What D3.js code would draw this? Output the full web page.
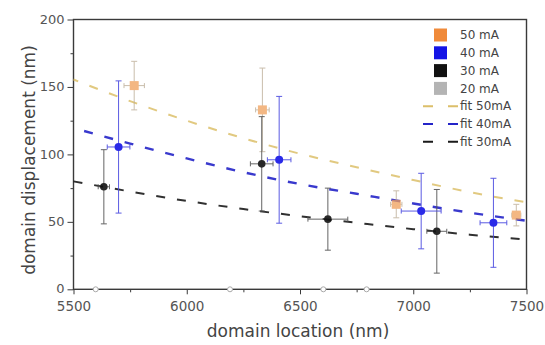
<!DOCTYPE html>
<html>
<head>
<meta charset="utf-8">
<script src="https://cdn.jsdelivr.net/npm/d3@7"></script>
<style>
  html, body { margin: 0; padding: 0; background: #fff; }
  svg { display: block; font-family: "DejaVu Sans", sans-serif; }
</style>
</head>
<body>
<svg id="chart" width="545" height="345"></svg>
<script>
// ── data ──
var x50 = [5768, 6334, 6925, 7455];
var y50 = [151, 133, 63, 55];
var ey50 = [18, 31, 10, 8];
var ex50 = [45, 30, 25, 20];

var x40 = [5699, 6408, 7035, 7354];
var y40 = [105.5, 96, 58, 49.3];
var ey40 = [49, 47, 28, 33];
var ex40 = [50, 52, 88, 59];

var x30 = [5634, 6331, 6623, 7104];
var y30 = [76, 93, 52, 43];
var ey30 = [27.5, 35, 23, 31];
var ex30 = [25, 50, 88, 44];

var x20 = [5598, 6191, 6603, 6794];
var y20 = [0, 0, 0, 0];

var fitX = [5500, 5750, 6000, 6250, 6500, 6750, 7000, 7250, 7500];
var fit50 = [155.5, 139.5, 125, 112, 100.5, 90.5, 81, 72, 64.5];
var fit40 = [119.5, 108, 97, 86.8, 78, 70.8, 63.6, 56.8, 50.8];
var fit30 = [80, 72.5, 65.5, 59.5, 54.2, 49.3, 44.6, 40.5, 36.8];

var xTicks = [5500, 6000, 6500, 7000, 7500];
var yTicks = [0, 50, 100, 150, 200];
var legendLabels = ['50 mA', '40 mA', '30 mA', '20 mA', 'fit 50mA', 'fit 40mA', 'fit 30mA'];

(function () {
  var svg = d3.select('#chart');
  var L = 73.5, R = 526.5, T = 19.5, B = 289.3;

  var x = d3.scaleLinear().domain([5500, 7500]).range([L, R]);
  var y = d3.scaleLinear().domain([0, 200]).range([B, T]);

  var C = { o: '#f08a3a', b: '#1414e6', k: '#111', g: '#b4b4b4',
            f50: '#dcbf6a', f40: '#2424c8', f30: '#1a1a1a', axis: '#3a3a3a', txt: '#555' };

  // ── axes ──
  var ax = svg.append('g').attr('transform', 'translate(0,' + B + ')')
    .call(d3.axisBottom(x).tickValues(xTicks).tickSize(5).tickPadding(7).tickFormat(d3.format('d')));
  var axm = svg.append('g').attr('transform', 'translate(0,' + B + ')')
    .call(d3.axisBottom(x).tickValues([5750, 6250, 6750, 7250]).tickSize(3).tickFormat(''));
  var ay = svg.append('g').attr('transform', 'translate(' + L + ',0)')
    .call(d3.axisLeft(y).tickValues(yTicks).tickSize(6).tickPadding(3));
  var aym = svg.append('g').attr('transform', 'translate(' + L + ',0)')
    .call(d3.axisLeft(y).tickValues([25, 75, 125, 175]).tickSize(3).tickFormat(''));

  [ax, axm, ay, aym].forEach(function (g) {
    g.select('.domain').remove();
    g.selectAll('line').attr('stroke', C.axis).attr('stroke-width', 1);
    g.selectAll('text').attr('fill', C.txt).style('font-size', '13px')
      .style('font-family', '"DejaVu Sans", sans-serif');
  });
  ax.selectAll('text').style('font-size', '13.5px');
  ay.selectAll('text').attr('dy', '0.28em');

  // frame
  svg.append('rect').attr('x', L).attr('y', T).attr('width', R - L).attr('height', B - T)
    .attr('fill', 'none').attr('stroke', C.axis).attr('stroke-width', 1.4);

  // titles
  svg.append('text').attr('x', 298).attr('y', 337).attr('text-anchor', 'middle')
    .attr('fill', '#444').style('font-size', '17px').text('domain location (nm)');
  svg.append('text').attr('transform', 'translate(35,160) rotate(-90)')
    .attr('text-anchor', 'middle').attr('fill', '#444').style('font-size', '17px')
    .text('domain displacement (nm)');

  // ── fit curves ──
  var line = d3.line().x(function (d) { return x(d[0]); }).y(function (d) { return y(d[1]); })
    .curve(d3.curveMonotoneX);
  var fits = [
    { v: fit50, c: C.f50, w: 2, off: 4 },
    { v: fit40, c: C.f40, w: 2.4, off: 10 },
    { v: fit30, c: C.f30, w: 2, off: 0 }
  ];
  fits.forEach(function (f) {
    svg.append('path').datum(fitX.map(function (v, i) { return [v, f.v[i]]; }))
      .attr('d', line).attr('fill', 'none').attr('stroke', f.c).attr('stroke-width', f.w)
      .attr('stroke-dasharray', '9,12').attr('stroke-dashoffset', f.off)
      .attr('opacity', f.c === C.f50 ? 0.85 : 0.9);
  });

  // ── error bars + markers ──
  function series(xs, ys, ex, ey, errCol, op) {
    var g = svg.append('g').attr('opacity', op);
    xs.forEach(function (xv, i) {
      var px = x(xv), py = y(ys[i]);
      var y1 = y(ys[i] + ey[i]), y2 = y(ys[i] - ey[i]);
      var x1 = x(xv - ex[i]), x2 = x(xv + ex[i]);
      var segs = [
        [px, y1, px, y2], [px - 3, y1, px + 3, y1], [px - 3, y2, px + 3, y2],
        [x1, py, x2, py], [x1, py - 2.5, x1, py + 2.5], [x2, py - 2.5, x2, py + 2.5]
      ];
      segs.forEach(function (s) {
        g.append('line').attr('x1', s[0]).attr('y1', s[1]).attr('x2', s[2]).attr('y2', s[3])
          .attr('stroke', errCol).attr('stroke-width', 1);
      });
    });
    return g;
  }

  var g50 = series(x50, y50, ex50, ey50, '#b8a890', 0.75);
  g50.selectAll('rect.m').data(x50).join('rect').attr('class', 'm')
    .attr('x', function (d) { return x(d) - 4.5; })
    .attr('y', function (d, i) { return y(y50[i]) - 4.5; })
    .attr('width', 9).attr('height', 9).attr('fill', '#f0a05a');

  var g30 = series(x30, y30, ex30, ey30, '#555', 0.9);
  g30.selectAll('circle').data(x30).join('circle')
    .attr('cx', function (d) { return x(d); })
    .attr('cy', function (d, i) { return y(y30[i]); })
    .attr('r', 3.8).attr('fill', C.k);

  var g40 = series(x40, y40, ex40, ey40, '#4a4ae0', 0.9);
  g40.selectAll('circle').data(x40).join('circle')
    .attr('cx', function (d) { return x(d); })
    .attr('cy', function (d, i) { return y(y40[i]); })
    .attr('r', 4).attr('fill', C.b);

  svg.append('g').selectAll('circle').data(x20).join('circle')
    .attr('cx', function (d) { return x(d); })
    .attr('cy', function (d, i) { return y(y20[i]); })
    .attr('r', 2.5).attr('fill', '#fff').attr('stroke', '#aaa').attr('stroke-width', 1);

  // ── legend ──
  var lg = svg.append('g');
  var swatch = [C.o, C.b, C.k, C.g];
  var fitCols = [C.f50, C.f40, C.f30];
  legendLabels.forEach(function (lab, i) {
    var cy = 35 + i * 17.8;
    if (i < 4) {
      lg.append('rect').attr('x', 434).attr('y', cy - 6.5).attr('width', 13).attr('height', 13)
        .attr('fill', swatch[i]);
    } else {
      lg.append('line').attr('x1', 423).attr('x2', 458).attr('y1', cy).attr('y2', cy)
        .attr('stroke', fitCols[i - 4]).attr('stroke-width', 2)
        .attr('stroke-dasharray', '10,15');
    }
    lg.append('text').attr('x', 460).attr('y', cy + 4.2).attr('fill', '#444')
      .style('font-size', '12px').text(lab);
  });
})();
</script>
</body>
</html>
